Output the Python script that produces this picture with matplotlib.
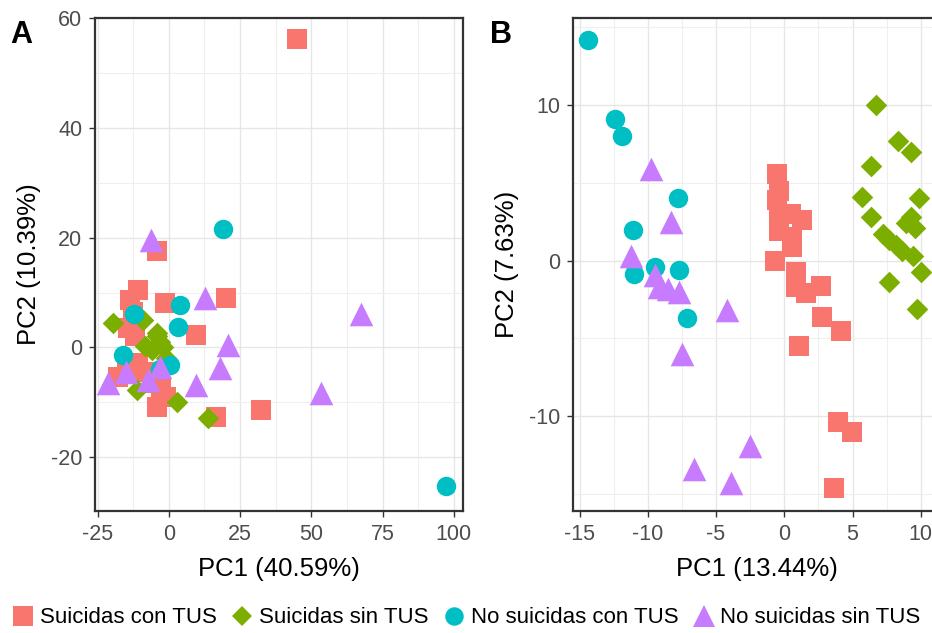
import matplotlib
matplotlib.use("Agg")
import matplotlib.pyplot as plt
from matplotlib.lines import Line2D
from matplotlib.ticker import MultipleLocator

plt.rcParams["font.family"] = ["Liberation Sans", "DejaVu Sans"]
plt.rcParams["axes.unicode_minus"] = False

groups = ["Suicidas con TUS", "Suicidas sin TUS", "No suicidas con TUS", "No suicidas sin TUS"]
colors = ["#F8766D", "#7CAE00", "#00BFC4", "#C77CFF"]
markers = ["s", "D", "o", "^"]
sizes = [14.5, 11, 14, 17]

# Panel A: PC1 vs PC2, all features
a_con_tus_x = [44.9, -4.0, -10.8, -13.7, -12.5, -1.4, 20.2, -14.3, -12.0, 9.7, -10.8, -8.0, -17.8, -14.5, -2.6, -6.0, -4.3, -1.0, 16.7, 32.5]
a_con_tus_y = [56.2, 17.5, 10.5, 8.7, 6.5, 8.1, 9.0, 3.5, 2.0, 2.3, -2.8, -4.5, -5.3, -4.0, -7.4, -6.5, -10.8, -9.0, -12.6, -11.4]
a_sin_tus_x = [-19.5, -9.1, -4.3, -4.2, -2.1, -6.0, -8.4, -3.0, -1.0, -11.2, 2.8, 13.7]
a_sin_tus_y = [4.4, 5.0, 2.7, 2.0, 0.1, -0.4, 0.2, 1.0, -2.0, -7.7, -10.0, -12.8]
a_no_con_x = [19.0, 3.9, -12.2, 3.3, -16.0, 0.4, -3.0, 97.4]
a_no_con_y = [21.6, 7.8, 6.0, 3.8, -1.3, -3.2, -4.0, -25.3]
a_no_sin_x = [-6.1, 12.6, 20.7, 17.9, 9.7, -21.3, -7.3, -3.0, 67.3, 53.3, -15.0]
a_no_sin_y = [19.6, 9.0, 0.5, -3.7, -6.8, -6.5, -5.9, -3.5, 6.0, -8.3, -4.5]

# Panel B
b_con_tus_x = [-0.5, -0.4, -0.5, -0.4, 0.5, 1.3, -0.4, 0.6, 0.6, -0.7, 0.85, 0.85, 1.6, 2.7, 2.8, 4.15, 1.1, 3.95, 4.95, 3.65]
b_con_tus_y = [5.6, 4.5, 3.9, 3.0, 3.0, 2.6, 1.9, 1.5, 0.9, 0.0, -0.75, -1.7, -2.1, -1.6, -3.65, -4.5, -5.5, -10.4, -11.05, -14.6]
b_sin_tus_x = [6.75, 8.3, 9.3, 6.35, 5.7, 9.9, 6.35, 9.3, 8.9, 9.6, 7.2, 7.7, 8.2, 8.65, 9.4, 10.05, 7.7, 9.75]
b_sin_tus_y = [10.0, 7.7, 7.0, 6.1, 4.1, 4.0, 2.8, 2.8, 2.4, 2.1, 1.7, 1.3, 1.0, 0.6, 0.3, -0.75, -1.4, -3.1]
b_no_con_x = [-14.37, -12.4, -11.9, -7.8, -11.1, -11.0, -9.5, -7.7, -7.1]
b_no_con_y = [14.2, 9.1, 8.0, 4.0, 2.0, -0.86, -0.4, -0.6, -3.7]
b_no_sin_x = [-9.8, -8.3, -11.2, -9.5, -9.2, -8.5, -7.7, -4.2, -7.5, -2.5, -6.6, -3.9]
b_no_sin_y = [5.9, 2.5, 0.3, -0.9, -1.7, -1.8, -2.0, -3.2, -6.0, -11.9, -13.4, -14.3]

a_series = [(a_con_tus_x, a_con_tus_y), (a_sin_tus_x, a_sin_tus_y),
            (a_no_con_x, a_no_con_y), (a_no_sin_x, a_no_sin_y)]
b_series = [(b_con_tus_x, b_con_tus_y), (b_sin_tus_x, b_sin_tus_y),
            (b_no_con_x, b_no_con_y), (b_no_sin_x, b_no_sin_y)]


def draw_panel(ax, series, xlim, ylim, xstep, ystep, xlabel, ylabel):
    for (x, y), c, m, s in zip(series, colors, markers, sizes):
        ax.scatter(x, y, s=s ** 2, c=c, marker=m, linewidths=0, zorder=3)
    ax.set_xlim(*xlim)
    ax.set_ylim(*ylim)
    ax.xaxis.set_major_locator(MultipleLocator(xstep))
    ax.yaxis.set_major_locator(MultipleLocator(ystep))
    ax.xaxis.set_minor_locator(MultipleLocator(xstep / 2))
    ax.yaxis.set_minor_locator(MultipleLocator(ystep / 2))
    ax.grid(which="major", color="#E6E6E6", linewidth=1.0, zorder=0)
    ax.grid(which="minor", color="#EFEFEF", linewidth=0.8, zorder=0)
    ax.set_axisbelow(True)
    for sp in ax.spines.values():
        sp.set_color("#333333")
        sp.set_linewidth(1.6)
    ax.tick_params(which="major", length=4, width=1.0, color="#333333",
                   labelsize=15.5, labelcolor="#4D4D4D", pad=5)
    ax.tick_params(which="minor", length=0)
    ax.set_xlabel(xlabel, fontsize=18.5, labelpad=9)
    ax.set_ylabel(ylabel, fontsize=18.5, labelpad=7)


fig = plt.figure(figsize=(9.32, 6.33), dpi=100)
ax_a = fig.add_axes([0.1019, 0.1927, 0.3948, 0.7788])
ax_b = fig.add_axes([0.6145, 0.1927, 0.3948, 0.7788])

draw_panel(ax_a, a_series, (-25.9, 103.2), (-29.8, 60), 25, 20, "PC1 (40.59%)", "PC2 (10.39%)")
draw_panel(ax_b, b_series, (-15.5, 11.46), (-16.1, 15.6), 5, 10, "PC1 (13.44%)", "PC2 (7.63%)")

fig.text(0.011, 0.945, "A", fontsize=22, fontweight="bold", va="center", ha="left")
fig.text(0.526, 0.945, "B", fontsize=22, fontweight="bold", va="center", ha="left")

handles = [Line2D([], [], linestyle="none", marker=m, color=c, markersize=s * 0.95, markeredgewidth=0)
           for c, m, s in zip(colors, markers, sizes)]
fig.legend(handles, groups, loc="center left", bbox_to_anchor=(12 / 932, 0.0237), ncol=4,
           frameon=False, fontsize=16, handlelength=1.0, handletextpad=0.25,
           columnspacing=0.65, borderpad=0, borderaxespad=0)

fig.savefig("out.png", dpi=100)
